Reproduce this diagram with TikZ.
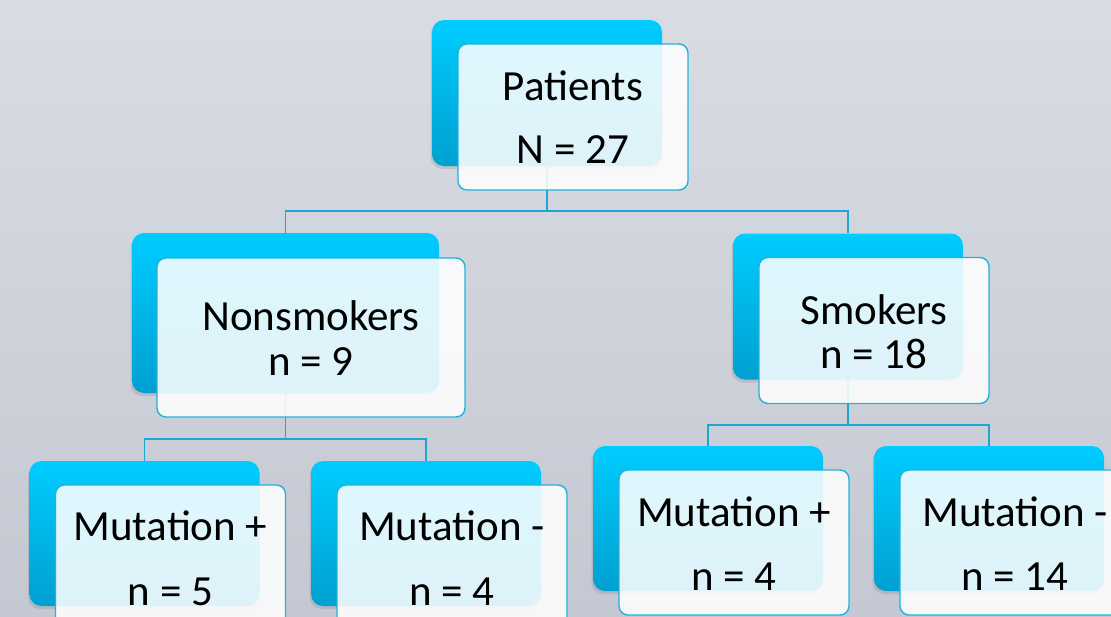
\documentclass[tikz,border=0pt]{standalone}
\usepackage{fontspec}
\setmainfont{Carlito}
\usetikzlibrary{shadows}
\definecolor{bgtop}{HTML}{D9DCE3}
\definecolor{bgbot}{HTML}{C4C8D2}
\definecolor{cyantop}{HTML}{00CCFF}
\definecolor{cyanbot}{HTML}{00A0D0}
\definecolor{edgec}{HTML}{22B2DA}
\definecolor{linec}{HTML}{1FA6D0}
\tikzset{
 backbox/.style={rectangle, rounded corners=12pt, top color=cyantop, bottom color=cyanbot, draw=none, minimum width=230pt, minimum height=146pt, inner sep=0pt, drop shadow={shadow xshift=-1.5pt, shadow yshift=-3pt, opacity=0.25}},
 frontbox/.style={rectangle, rounded corners=9pt, fill=white, fill opacity=0.87, draw=edgec, line width=1.4pt, minimum width=230pt, minimum height=146pt, inner sep=0pt},
 lbl/.style={anchor=base, font=\fontsize{43}{50}\selectfont, text=black, inner sep=0pt},
 conn/.style={draw=linec, line width=1.5pt},
}
\begin{document}
\begin{tikzpicture}[x=1pt,y=-1pt]
\useasboundingbox (0,0) rectangle (1111,616);
\shade[top color=bgtop, bottom color=bgbot] (0,0) rectangle (1111,616);
% back boxes
\node[backbox] (pb) at (547,93) {};
\node[backbox, minimum width=307pt, minimum height=160pt] (nb) at (285.5,313) {};
\node[backbox] (sb) at (848,306.5) {};
\node[backbox, minimum height=145pt] (ml1) at (144.5,533.5) {};
\node[backbox, minimum height=145pt] (ml2) at (426,533.5) {};
\node[backbox, minimum height=145pt] (mr1) at (708,518.5) {};
\node[backbox, minimum height=145pt] (mr2) at (989,518.5) {};
% connectors
\coordinate (j1) at (547,211);
\coordinate (j2) at (285.5,439);
\coordinate (j3) at (848,425);
\draw[conn] (pb.south) -- (j1) -| (nb.north);
\draw[conn] (j1) -| (sb.north);
\draw[conn] (nb.south) -- (j2) -| (ml1.north);
\draw[conn] (j2) -| (ml2.north);
\draw[conn] (sb.south) -- (j3) -| (mr1.north);
\draw[conn] (j3) -| (mr2.north);
% front boxes
\node[frontbox] (pf) at (573,117) {};
\node[frontbox, minimum width=308pt, minimum height=159pt] (nf) at (311,337.5) {};
\node[frontbox] (sf) at (874,330.5) {};
\node[frontbox, minimum height=145pt] (ml1f) at (170.5,557.5) {};
\node[frontbox, minimum height=145pt] (ml2f) at (452,557.5) {};
\node[frontbox, minimum height=145pt] (mr1f) at (734,542.5) {};
\node[frontbox, minimum height=145pt] (mr2f) at (1015,542.5) {};
% labels
\node[lbl] (t1) at (573,100) {Patients};
\node[lbl] (t2) at (573,163) {N = 27};
\node[lbl] (t3) at (311,330) {Nonsmokers};
\node[lbl] (t4) at (311,375) {n = 9};
\node[lbl] (t5) at (874,324) {Smokers};
\node[lbl] (t6) at (874,368) {n = 18};
\node[lbl] (t7) at (170.5,540) {Mutation +};
\node[lbl] (t8) at (170.5,605) {n = 5};
\node[lbl] (t9) at (452,540) {Mutation -};
\node[lbl] (t10) at (452,605) {n = 4};
\node[lbl] (t11) at (734,526) {Mutation +};
\node[lbl] (t12) at (734,590) {n = 4};
\node[lbl] (t13) at (1015,526) {Mutation -};
\node[lbl] (t14) at (1015,590) {n = 14};
\end{tikzpicture}
\end{document}
